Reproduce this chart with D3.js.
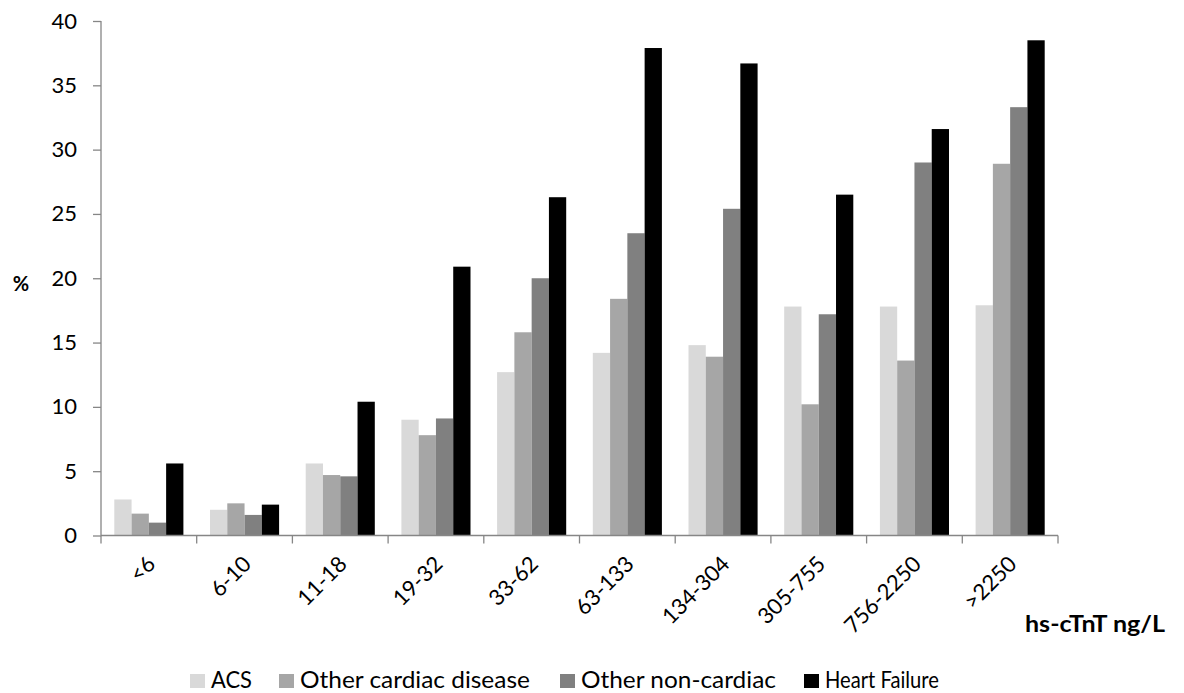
<!DOCTYPE html>
<html>
<head>
<meta charset="utf-8">
<script src="https://cdn.jsdelivr.net/npm/d3@7"></script>
<style>
  body { margin: 0; background: #fff; }
  text { font-family: Lato, "Open Sans", sans-serif; fill: #000; }
</style>
</head>
<body>
<div id="chart"></div>
<script>
var categories = ["<6", "6-10", "11-18", "19-32", "33-62", "63-133", "134-304", "305-755", "756-2250", ">2250"];
var seriesNames = ["ACS", "Other cardiac disease", "Other non-cardiac", "Heart Failure"];
var seriesColors = ["#d9d9d9", "#a6a6a6", "#808080", "#000000"];

var acs = [2.8, 2.0, 5.6, 9.0, 12.7, 14.2, 14.8, 17.8, 17.8, 17.9];
var otherCardiac = [1.7, 2.5, 4.7, 7.8, 15.8, 18.4, 13.9, 10.2, 13.6, 28.9];
var otherNonCardiac = [1.0, 1.6, 4.6, 9.1, 20.0, 23.5, 25.4, 17.2, 29.0, 33.3];
var heartFailure = [5.6, 2.4, 10.4, 20.9, 26.3, 37.9, 36.7, 26.5, 31.6, 38.5];

var yTicks = [0, 5, 10, 15, 20, 25, 30, 35, 40];

var allSeries = [acs, otherCardiac, otherNonCardiac, heartFailure];

var margin = { top: 21, right: 126, bottom: 157.5, left: 101 },
    width = 1184 - margin.left - margin.right,
    height = 693 - margin.top - margin.bottom;

var svg = d3.select("#chart")
    .append("svg")
    .attr("width", 1184)
    .attr("height", 693);

var g = svg.append("g")
    .attr("transform", "translate(" + margin.left + "," + margin.top + ")");

// scales
var x = d3.scaleBand()
    .domain(categories)
    .range([0, width])
    .padding(0);

var xInner = d3.scaleBand()
    .domain(d3.range(seriesNames.length))
    .range([0, x.bandwidth()])
    .paddingInner(0)
    .paddingOuter(0.77);

var y = d3.scaleLinear()
    .domain([0, 40])
    .range([height, 0]);

// bars
var rows = categories.map(function (c, i) {
    return { cat: c, values: allSeries.map(function (s) { return s[i]; }) };
});

var groups = g.selectAll(".grp")
    .data(rows)
    .enter()
    .append("g")
    .attr("class", "grp")
    .attr("transform", function (d) { return "translate(" + x(d.cat) + ",0)"; });

groups.selectAll("rect")
    .data(function (d) { return d.values; })
    .enter()
    .append("rect")
    .attr("x", function (d, j) { return xInner(j); })
    .attr("y", function (d) { return y(d); })
    .attr("width", xInner.bandwidth())
    .attr("height", function (d) { return height - y(d); })
    .attr("fill", function (d, j) { return seriesColors[j]; });

// y axis
var yAxis = g.append("g")
    .call(d3.axisLeft(y).tickValues(yTicks).tickSize(8).tickPadding(16));
yAxis.selectAll("path, line").attr("stroke", "#868686").attr("stroke-width", 1.3);
yAxis.selectAll("text")
    .style("font-size", "22px")
    .style("font-family", "Lato, 'Open Sans', sans-serif")
    .attr("fill", "#000");
yAxis.select(".domain").attr("d", "M0," + height + "V0");

// x axis with ticks at category boundaries
var xAxis = g.append("g")
    .attr("transform", "translate(0," + height + ")");
xAxis.append("line")
    .attr("x1", 0).attr("x2", width)
    .attr("stroke", "#868686").attr("stroke-width", 1.3);
xAxis.selectAll(".tick")
    .data(categories.concat(["end"]))
    .enter()
    .append("line")
    .attr("x1", function (d, i) { return i < categories.length ? x(d) : width; })
    .attr("x2", function (d, i) { return i < categories.length ? x(d) : width; })
    .attr("y1", 0).attr("y2", 8)
    .attr("stroke", "#868686").attr("stroke-width", 1.3);

xAxis.selectAll(".lab")
    .data(categories)
    .enter()
    .append("text")
    .attr("class", "lab")
    .attr("text-anchor", "end")
    .attr("transform", function (d) {
        return "translate(" + (x(d) + x.bandwidth() / 2 + 8) + ",30) rotate(-45)";
    })
    .style("font-size", "22px")
    .text(function (d) { return d; });

// axis titles
svg.append("text")
    .attr("x", 21)
    .attr("y", 291)
    .attr("text-anchor", "middle")
    .style("font-size", "20px")
    .style("font-weight", "bold")
    .text("%");

// squeeze a text horizontally to a target width (the reference font is narrow)
function squeeze(sel, x0, y0, target) {
    var w = sel.node().getComputedTextLength();
    sel.attr("transform", "translate(" + x0 + "," + y0 + ") scale(" + (target / w) + ",1)");
}

var xTitle = svg.append("text")
    .style("font-size", "22px")
    .style("font-weight", "bold")
    .text("hs-cTnT ng/L");
squeeze(xTitle, 1025, 632, 140);

// legend
var legendX = [190, 279, 560, 804];
var legendW = [41, 230, 195, 114];
var legend = svg.selectAll(".leg")
    .data(seriesNames)
    .enter()
    .append("g")
    .attr("class", "leg")
    .attr("transform", function (d, i) { return "translate(" + legendX[i] + ",674)"; });

legend.append("rect")
    .attr("width", 15)
    .attr("height", 14)
    .attr("fill", function (d, i) { return seriesColors[i]; });

legend.append("text")
    .style("font-size", "23px")
    .text(function (d) { return d; })
    .each(function (d, i) { squeeze(d3.select(this), 21, 14, legendW[i]); });
</script>
</body>
</html>
